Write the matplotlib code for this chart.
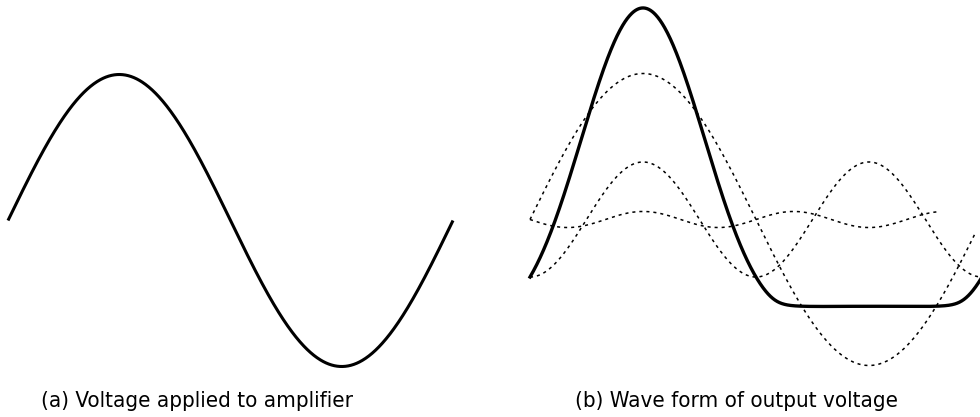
"""
Amplifier distortion sketch: a clean sine at the input (a), and the output
(b) built from fundamental + 2nd + 3rd harmonic, bottom flattened at cutoff.
"""

import numpy as np
import matplotlib.pyplot as plt

W, H = 980, 417          # output size in px
PX_PER_UNIT = 146        # vertical px for one unit of input amplitude

# --- data -------------------------------------------------------------
INPUT_AMP = 1.0

# output components: amp * sin(order * theta + phase)
HARMONIC_ORDER = [1, 2, 3]
HARMONIC_AMP = [1.0, 0.394, 0.055]
HARMONIC_PHASE = [0.0, -np.pi / 2, np.pi]
HARMONIC_END = [6.19, 2 * np.pi, 5.66]   # phase where each dotted trace stops

CUTOFF = -0.60           # output can't swing below this
KNEE = 0.035             # softness of the cutoff corner

CAPTIONS = ["(a) Voltage applied to amplifier", "(b) Wave form of output voltage"]
# ----------------------------------------------------------------------

Y_LO, Y_HI = -1.3, 1.5


def place(fig, x0, x1, mid):
    """axes whose theta 0..2pi spans px x0..x1 and whose zero sits at px row `mid`"""
    bottom = H - (mid - Y_LO * PX_PER_UNIT)
    height = (Y_HI - Y_LO) * PX_PER_UNIT
    ax = fig.add_axes([x0 / W, bottom / H, (x1 - x0) / W, height / H])
    ax.set_xlim(0, 2 * np.pi)
    ax.set_ylim(Y_LO, Y_HI)
    ax.axis("off")
    return ax


def main() -> None:
    plt.rcParams["font.family"] = ["DejaVu Sans"]
    fig = plt.figure(figsize=(W / 100, H / 100), dpi=100)
    fig.patch.set_facecolor("white")

    # (a) input
    ax_a = place(fig, 8, 453, 220.5)
    th = np.linspace(0, 2 * np.pi, 800)
    ax_a.plot(th, INPUT_AMP * np.sin(th), color="black", lw=2.2,
              solid_capstyle="butt", clip_on=False)

    # (b) output
    ax_b = place(fig, 530, 982, 219.5)
    total = np.zeros_like(th)
    for n, a, ph, end in zip(HARMONIC_ORDER, HARMONIC_AMP, HARMONIC_PHASE, HARMONIC_END):
        comp = a * np.sin(n * th + ph)
        total += comp
        keep = th <= end
        ax_b.plot(th[keep], comp[keep], color="black", lw=1.1,
                  dashes=(2.0, 2.6), clip_on=False)
    # soft floor at the cutoff level
    out = CUTOFF + KNEE * np.logaddexp(0, (total - CUTOFF) / KNEE)
    ax_b.plot(th, out, color="black", lw=2.4, clip_on=False)

    for x_px, txt in zip([197, 736], CAPTIONS):
        fig.text(x_px / W, 1 - 401 / H, txt, ha="center", va="center",
                 fontsize=16, fontstretch="condensed", color="black")

    fig.savefig("out.png", dpi=100, facecolor="white")


if __name__ == "__main__":
    main()
